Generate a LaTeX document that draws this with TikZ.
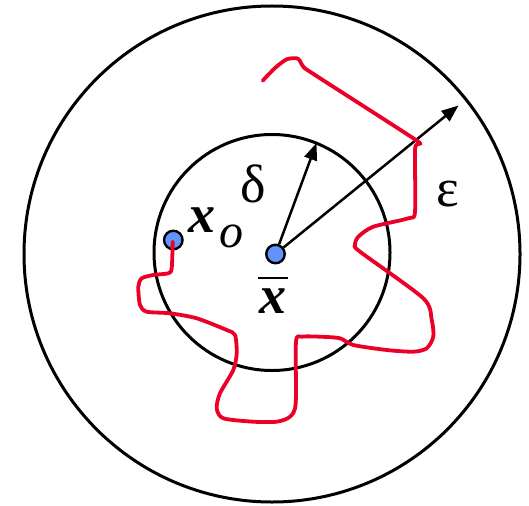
\documentclass[tikz,border=0pt]{standalone}
\usepackage{fontspec}
\setmainfont{Liberation Serif}
\usetikzlibrary{arrows.meta,calc}
\definecolor{curvered}{RGB}{236,0,40}
\definecolor{dotblue}{RGB}{96,148,250}
\begin{document}
\begin{tikzpicture}[x=1pt,y=-1pt,
  ring/.style={draw=black,line width=3pt},
  dotnode/.style={circle,draw=black,line width=2.4pt,fill=dotblue,minimum size=18.5pt,inner sep=0pt},
  radius arrow/.style={line width=2.5pt,-{Triangle[length=17pt,width=13pt]}},
  lbl/.style={inner sep=0pt,font=\fontsize{54}{60}\selectfont},
  walk/.style={draw=curvered,line width=3.8pt,line cap=round,line join=round}]
\useasboundingbox (0,0) rectangle (529,505);
\fill[white] (0,0) rectangle (529,505);
\draw[ring] (272,254) circle[radius=248];
\draw[ring] (272,252.5) circle[radius=118];
\coordinate (dtip) at (316.5,143);
\coordinate (etip) at (458.5,105.5);
\node[dotnode] (ctr) at (275.5,254) {};
\node[dotnode] (xo) at (173.3,240) {};
\draw[radius arrow] (ctr) -- (dtip);
\draw[radius arrow] (ctr) -- (etip);
\node[lbl] (delta) at (253.5,183.5) {δ};
\node[lbl] (eps) at (448,194.5) {ε};
\node[lbl] (xobold) at (202,220) {\bfseries\itshape x};
\node[inner sep=0pt,font=\fontsize{48}{52}\selectfont] (xosub) at (231,236) {\itshape o};
\node[lbl] (xbar) at (272.5,301) {\bfseries\itshape x};
\draw[line width=2.6pt] ($(xbar.center)+(-14.5,-23)$) coordinate (bl) -- ($(xbar.center)+(15.5,-23)$) coordinate (br);
\draw[walk] plot[smooth,tension=0.45] coordinates {(262.7,80.7) (275,68) (286.7,59.3) (296.7,58.3) (300,61) (303.3,66.7) (315,75) (413.3,138.3) (418.3,144) (415,150) (415,211.7) (408.3,218.3) (373.3,226.7) (358.3,236.7) (355,245) (360,251.7) (423.3,298.3) (431.7,320) (433.3,336.7) (426.7,348.3) (413.3,351.7) (386.7,350) (353.3,345) (340,338.3) (320,336.7) (301.7,336.7) (296,341.7) (295.7,403.3) (290,416.7) (276.7,421.7) (253.3,421.7) (223.3,418.3) (216.7,408.3) (220,393.3) (233.3,370) (236.7,353.3) (235,335) (226.7,330) (196.7,318.3) (170,313.3) (146.7,311.7) (140,305) (138.3,286.7) (141.7,278.3) (153.3,275) (168.3,273.3) (171.7,268.3) (172.7,241.7)};
\end{tikzpicture}
\end{document}
